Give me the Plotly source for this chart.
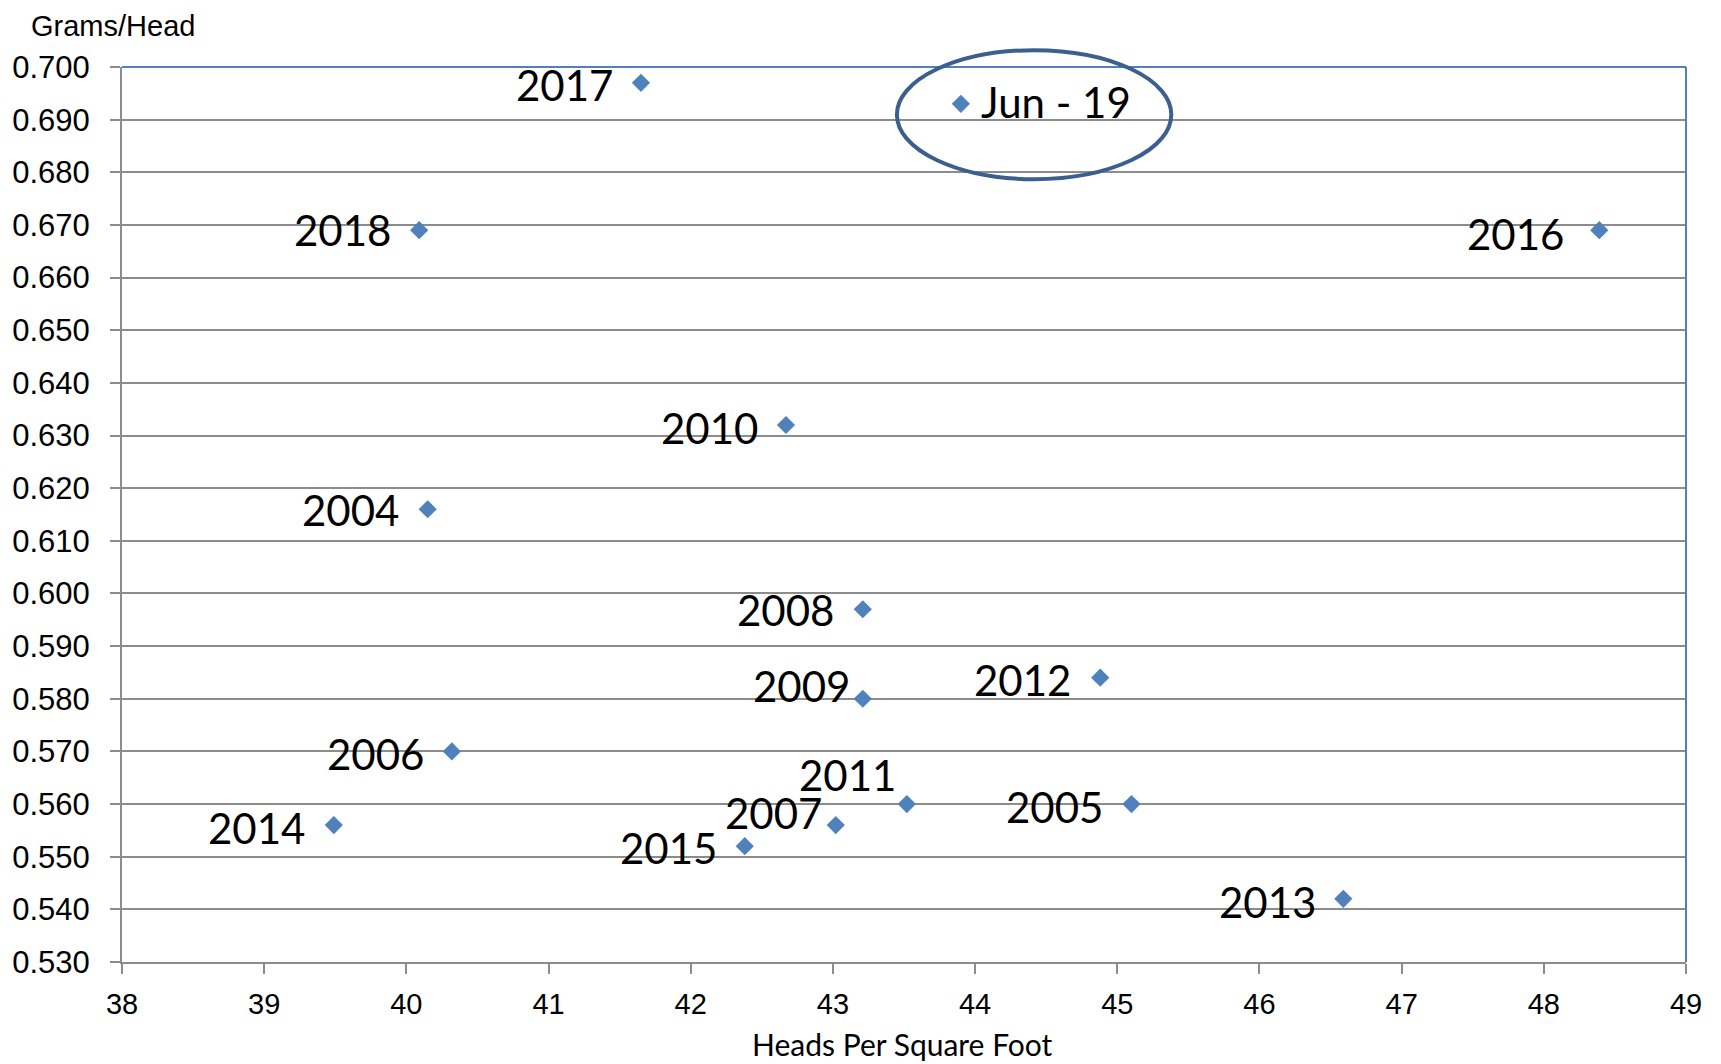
import plotly.graph_objects as go

# Data
labels = ["2017", "Jun - 19", "2018", "2016", "2010", "2004", "2008", "2009",
          "2012", "2006", "2014", "2011", "2007", "2015", "2005", "2013"]
heads_per_sqft = [41.65, 43.90, 40.09, 48.39, 42.67, 40.15, 43.21, 43.21,
                  44.88, 40.32, 39.49, 43.52, 43.02, 42.38, 45.10, 46.59]
grams_per_head = [0.697, 0.693, 0.669, 0.669, 0.632, 0.616, 0.597, 0.580,
                  0.584, 0.570, 0.556, 0.560, 0.556, 0.552, 0.560, 0.542]

x_ticks = list(range(38, 50))
y_ticks = [round(0.53 + 0.01 * i, 2) for i in range(18)]

# label placement (pixel offsets: anchor, xshift, yshift)
label_pos = {
    "2017": ("right", -26, -2), "Jun - 19": ("left", 18, 2), "2018": ("right", -26, 0),
    "2016": ("right", -33, -4), "2010": ("right", -26, -3), "2004": ("right", -27, -1),
    "2008": ("right", -27, -1), "2009": ("right", -11, 13), "2012": ("right", -27, -2),
    "2006": ("right", -26, -3), "2014": ("right", -27, -3), "2011": ("right", -9, 29),
    "2007": ("right", -12, 12), "2015": ("right", -26, -2), "2005": ("right", -26, -3),
    "2013": ("right", -25, -3),
}

XR = [38, 49]
YR = [0.53, 0.70]

fig = go.Figure()
fig.add_trace(go.Scatter(
    x=heads_per_sqft, y=grams_per_head, mode="markers",
    marker=dict(symbol="diamond", size=14, color="#4f81bd"),
    cliponaxis=False, showlegend=False,
))

for lab, xv, yv in zip(labels, heads_per_sqft, grams_per_head):
    anc, xs, ys = label_pos[lab]
    fig.add_annotation(x=xv, y=yv, xref="x", yref="y", text=lab, showarrow=False,
                       xanchor=anc, yanchor="middle", xshift=xs, yshift=ys,
                       font=dict(family="Lato", size=42, color="#000000"))

xtickfont = dict(family="Liberation Sans", size=29, color="#000000")
ytickfont = dict(family="Liberation Sans", size=31, color="#000000")
fig.update_xaxes(range=XR, tickvals=x_ticks, showgrid=False, automargin=False,
                 showline=True, linecolor="#8c8c8c", linewidth=2,
                 ticks="outside", ticklen=10, tickwidth=2, tickcolor="#8c8c8c",
                 ticklabelstandoff=5, zeroline=False, tickfont=xtickfont)
fig.update_yaxes(range=YR, tickvals=y_ticks, tickformat=".3f", automargin=False,
                 showgrid=True, gridcolor="#8c8c8c", gridwidth=1.5,
                 showline=True, linecolor="#8c8c8c", linewidth=2,
                 ticks="outside", ticklen=10, tickwidth=2, tickcolor="#8c8c8c",
                 ticklabelstandoff=14, zeroline=False, tickfont=ytickfont)

# plot-area border on top and right (blue)
fig.add_shape(type="line", xref="paper", yref="paper", x0=0, x1=1, y0=1, y1=1,
              line=dict(color="#4f81bd", width=2))
fig.add_shape(type="line", xref="paper", yref="paper", x0=1, x1=1, y0=0, y1=1,
              line=dict(color="#4f81bd", width=2))

# ellipse highlighting Jun - 19 (converted from data coords to paper coords)
ex0, ex1, ey0, ey1 = 43.45, 45.38, 0.6787, 0.7032
def px(v):
    return (v - XR[0]) / (XR[1] - XR[0])
def py(v):
    return (v - YR[0]) / (YR[1] - YR[0])
fig.add_shape(type="circle", xref="paper", yref="paper",
              x0=px(ex0), x1=px(ex1), y0=py(ey0), y1=py(ey1),
              line=dict(color="#3b5f8e", width=4))

fig.add_annotation(text="Grams/Head", xref="paper", yref="paper", x=-0.0593, y=1.0655,
                   xanchor="left", yanchor="top", showarrow=False,
                   font=dict(family="Liberation Sans", size=29, color="#000000"))
fig.add_annotation(text="Heads Per Square Foot", xref="paper", yref="paper", x=0.499, y=-0.1135,
                   xanchor="center", yanchor="bottom", showarrow=False,
                   font=dict(family="Lato", size=30, color="#000000"))

fig.update_layout(
    width=1713, height=1056,
    margin=dict(l=114, r=35, t=59, b=102, autoexpand=False),
    paper_bgcolor="white", plot_bgcolor="white",
)

fig.write_html("out.html")
